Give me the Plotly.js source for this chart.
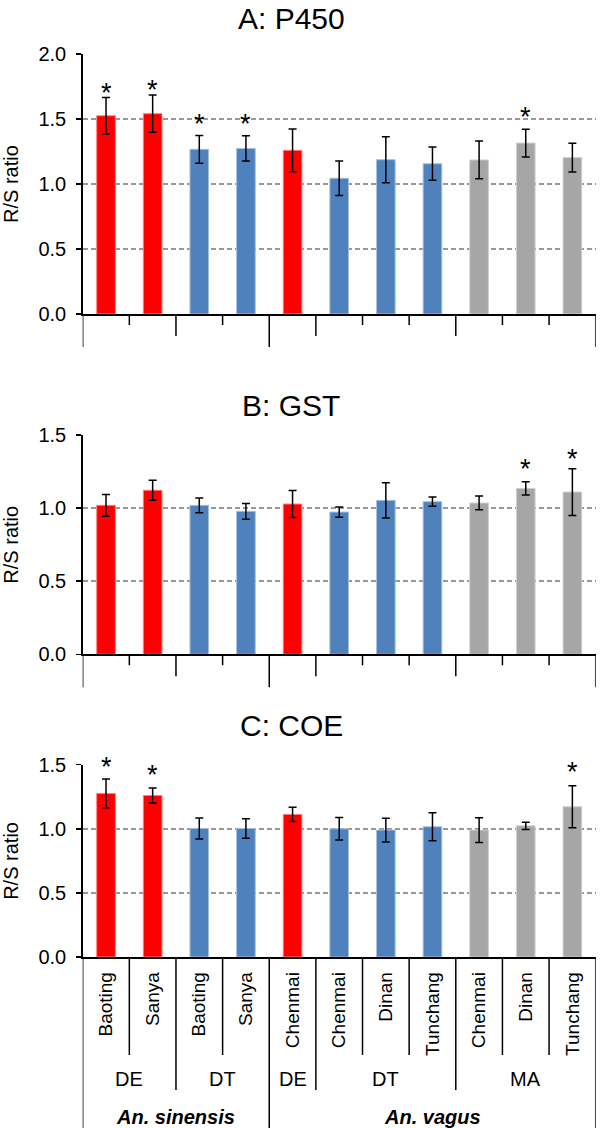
<!DOCTYPE html>
<html><head><meta charset="utf-8">
<script src="https://cdn.plot.ly/plotly-3.0.1.min.js"></script>
<style>body{margin:0;background:#fff}#chart{width:600px;height:1128px}</style>
</head><body><div id="chart"></div>
<script>
// ---- data ----
const sites   = ['Baoting','Sanya','Baoting','Sanya','Chenmai','Chenmai','Dinan','Tunchang','Chenmai','Dinan','Tunchang'];
const groups  = ['DE','DE','DT','DT','DE','DT','DT','DT','MA','MA','MA'];
const species = ['An. sinensis','An. sinensis','An. sinensis','An. sinensis','An. vagus','An. vagus','An. vagus','An. vagus','An. vagus','An. vagus','An. vagus'];
const panelTitles = ['A: P450','B: GST','C: COE'];
const yAxisTitle = 'R/S ratio';

const p450    = [1.525,1.541,1.267,1.274,1.259,1.044,1.187,1.156,1.185,1.315,1.203];
const p450Err = [0.140,0.143,0.107,0.097,0.165,0.133,0.177,0.128,0.145,0.107,0.110];
const p450Star= [1.75,1.77,1.51,1.51,null,null,null,null,null,1.565,null];

const gst     = [1.019,1.122,1.019,0.978,1.028,0.973,1.053,1.044,1.035,1.135,1.110];
const gstErr  = [0.074,0.068,0.050,0.054,0.092,0.035,0.120,0.032,0.047,0.045,0.160];
const gstStar = [null,null,null,null,null,null,null,null,null,1.306,1.375];

const coe     = [1.276,1.260,1.003,1.003,1.112,1.000,0.990,1.016,0.990,1.023,1.172];
const coeErr  = [0.112,0.058,0.082,0.076,0.056,0.088,0.092,0.110,0.096,0.028,0.163];
const coeStar = [1.526,1.466,null,null,null,null,null,null,null,null,1.49];

const yMax = [2.0, 1.5, 1.5];

// ---- styling ----
const groupColor = {DE:'#FF0000', DT:'#4F81BD', MA:'#A6A6A6'};
const groupEdge  = {DE:'#FF8080', DT:'#A7C0DE', MA:'#D0D0D0'};
const FONT = 'Liberation Sans, Arial, Helvetica, sans-serif';
const W = 600, H = 1128;
const py = px => 1 - px / H;
// pixel geometry of each panel: [top, bottom]
const panelPx = [[54,314],[435,654.3],[764.7,957]];
const titleOffsetPx = [35, 30, 39];
const xDom = [82.7/W, 595.7/W];

const series = [[p450,p450Err,p450Star],[gst,gstErr,gstStar],[coe,coeErr,coeStar]];
const xs = sites.map((_, i) => i);

const traces = [];
const shapes = [];
const annotations = [];
const layout = {
  width: W, height: H,
  margin: {l:0, r:0, t:0, b:0},
  showlegend: false,
  paper_bgcolor: '#fff', plot_bgcolor: '#fff',
  font: {family: FONT, color: '#000'},
  bargap: 0.6
};

series.forEach(([vals, errs, stars], p) => {
  const n = p + 1;
  const xa = 'x' + (n === 1 ? '' : n), ya = 'y' + (n === 1 ? '' : n);
  traces.push({
    type: 'bar', x: xs, y: vals, xaxis: xa, yaxis: ya,
    marker: {color: groups.map(g => groupColor[g]), line: {color: groups.map(g => groupEdge[g]), width: 1}},
    error_y: {type: 'data', array: errs, visible: true, color: '#000', thickness: 1.5, width: 4},
    hoverinfo: 'none'
  });
  const [top, bot] = panelPx[p];
  const dom = [py(bot), py(top)];
  layout['xaxis' + (n === 1 ? '' : n)] = {
    domain: xDom, anchor: ya, range: [-0.5, sites.length - 0.5],
    showgrid: false, zeroline: false, showline: true, linecolor: '#000', linewidth: 1.5,
    ticks: '', fixedrange: true,
    tickvals: xs, ticktext: sites,
    showticklabels: p === 2, tickangle: -90, tickfont: {size: 19, family: FONT},
    ticklabelstandoff: 6
  };
  layout['yaxis' + (n === 1 ? '' : n)] = {
    domain: dom, anchor: xa, range: [0, yMax[p]],
    dtick: 0.5, tick0: 0, tickformat: '.1f',
    showgrid: true, gridcolor: '#999999', gridwidth: 1.5, griddash: '5px,3px',
    zeroline: false, showline: true, linecolor: '#000', linewidth: 1.5,
    ticks: 'outside', ticklen: 5, tickwidth: 1.5, tickcolor: '#000',
    tickfont: {size: 20, family: FONT}, fixedrange: true, ticklabelstandoff: 6
  };
  // panel title
  annotations.push({xref:'paper', yref:'paper', x: 291/W, y: py(top - titleOffsetPx[p]),
    text: panelTitles[p], showarrow:false, xanchor:'center', yanchor:'middle', font:{size:30, family:FONT}});
  // y title
  annotations.push({xref:'paper', yref:'paper', x: 11/W, y: py((top + bot) / 2),
    text: yAxisTitle, showarrow:false, textangle:-90, xanchor:'center', yanchor:'middle', font:{size:20, family:FONT}});
  // significance stars (placed in paper space so those above the axis range still show)
  stars.forEach((s, i) => {
    if (s === null) return;
    annotations.push({xref: xa, yref: 'paper', x: i, y: dom[0] + (s / yMax[p]) * (dom[1] - dom[0]),
      text: '*', showarrow: false,
      xanchor:'center', yanchor:'middle', yshift: -6, font:{size: 27, family: FONT}});
  });
  // hierarchical separator lines below axis
  const lens = p === 2 ? {short: 98, medium: 133, long: 171} : {short: 11, medium: 22, long: 33};
  for (let b = -1; b < sites.length; b++) {
    let kind;
    if (b === -1 || b === sites.length - 1) kind = 'long';
    else if (species[b] !== species[b + 1]) kind = 'long';
    else if (groups[b] !== groups[b + 1]) kind = 'medium';
    else kind = 'short';
    shapes.push({type:'line', xref: xa, yref:'paper', x0: b + 0.5, x1: b + 0.5,
      y0: py(bot), y1: py(bot + lens[kind]), line:{color:'#000', width:1.5}});
  }
  // group and species labels (only under last panel)
  if (p === 2) {
    const runs = (keyFn) => {
      const out = [];
      sites.forEach((_, i) => {
        const k = keyFn(i);
        if (out.length && out[out.length - 1].key === k) out[out.length - 1].end = i;
        else out.push({key: k, start: i, end: i});
      });
      return out;
    };
    runs(i => species[i] + '|' + groups[i]).forEach(r => {
      annotations.push({xref: xa, yref:'paper', x: (r.start + r.end) / 2, y: py(1079),
        text: groups[r.start], showarrow:false, xanchor:'center', yanchor:'middle', font:{size:20, family:FONT}});
    });
    runs(i => species[i]).forEach(r => {
      annotations.push({xref: xa, yref:'paper', x: (r.start + r.end) / 2, y: py(1117),
        text: '<b><i>' + r.key + '</i></b>', showarrow:false, xanchor:'center', yanchor:'middle', font:{size:20, family:FONT}});
    });
  }
});

layout.shapes = shapes;
layout.annotations = annotations;
Plotly.newPlot('chart', traces, layout, {staticPlot: true, displayModeBar: false});
</script>
</body></html>
